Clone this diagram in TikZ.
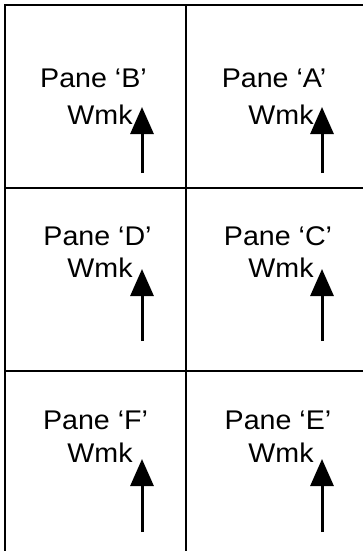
\documentclass[tikz,border=0pt]{standalone}
\usepackage{fontspec}
\setmainfont{Liberation Sans}
\usetikzlibrary{arrows.meta}
\tikzset{
  gridline/.style={line width=2.8pt, black},
  lbl/.style={inner sep=0pt, anchor=base, font=\fontsize{27}{32}\selectfont, xscale=1.06, transform shape},
  wmkarrow/.style={line width=3pt, -{Triangle[length=27pt,width=23pt]}}
}
\begin{document}
\begin{tikzpicture}[x=1pt,y=-1pt]
\useasboundingbox (0,0) rectangle (363,551);
\clip (0,0) rectangle (363,551);
\fill[white] (0,0) rectangle (363,551);
% grid
\draw[gridline] (5,5) rectangle (368,556);
\draw[gridline] (186,5) -- (186,556);
\draw[gridline] (5,188) -- (368,188);
\draw[gridline] (5,371) -- (368,371);
% row 1
\node[lbl] (pB) at (93.5,87) {Pane ‘B’};
\node[lbl] (wB) at (100,124) {Wmk};
\node[lbl] (pA) at (274,87) {Pane ‘A’};
\node[lbl] (wA) at (281,124) {Wmk};
% row 2
\node[lbl] (pD) at (97.5,245) {Pane ‘D’};
\node[lbl] (wD) at (100,277) {Wmk};
\node[lbl] (pC) at (278,245) {Pane ‘C’};
\node[lbl] (wC) at (281,277) {Wmk};
% row 3
\node[lbl] (pF) at (95.5,429) {Pane ‘F’};
\node[lbl] (wF) at (100,462) {Wmk};
\node[lbl] (pE) at (278,429) {Pane ‘E’};
\node[lbl] (wE) at (281,462) {Wmk};
% arrows
\coordinate (bB) at (142,173); \coordinate (tB) at (142,107);
\coordinate (bA) at (322,173); \coordinate (tA) at (322,107);
\coordinate (bD) at (142,341); \coordinate (tD) at (142,269);
\coordinate (bC) at (322,341); \coordinate (tC) at (322,269);
\coordinate (bF) at (142,532); \coordinate (tF) at (142,459);
\coordinate (bE) at (322,532); \coordinate (tE) at (322,459);
\foreach \p in {B,A,D,C,F,E} \draw[wmkarrow] (b\p) -- (t\p);
\end{tikzpicture}
\end{document}
